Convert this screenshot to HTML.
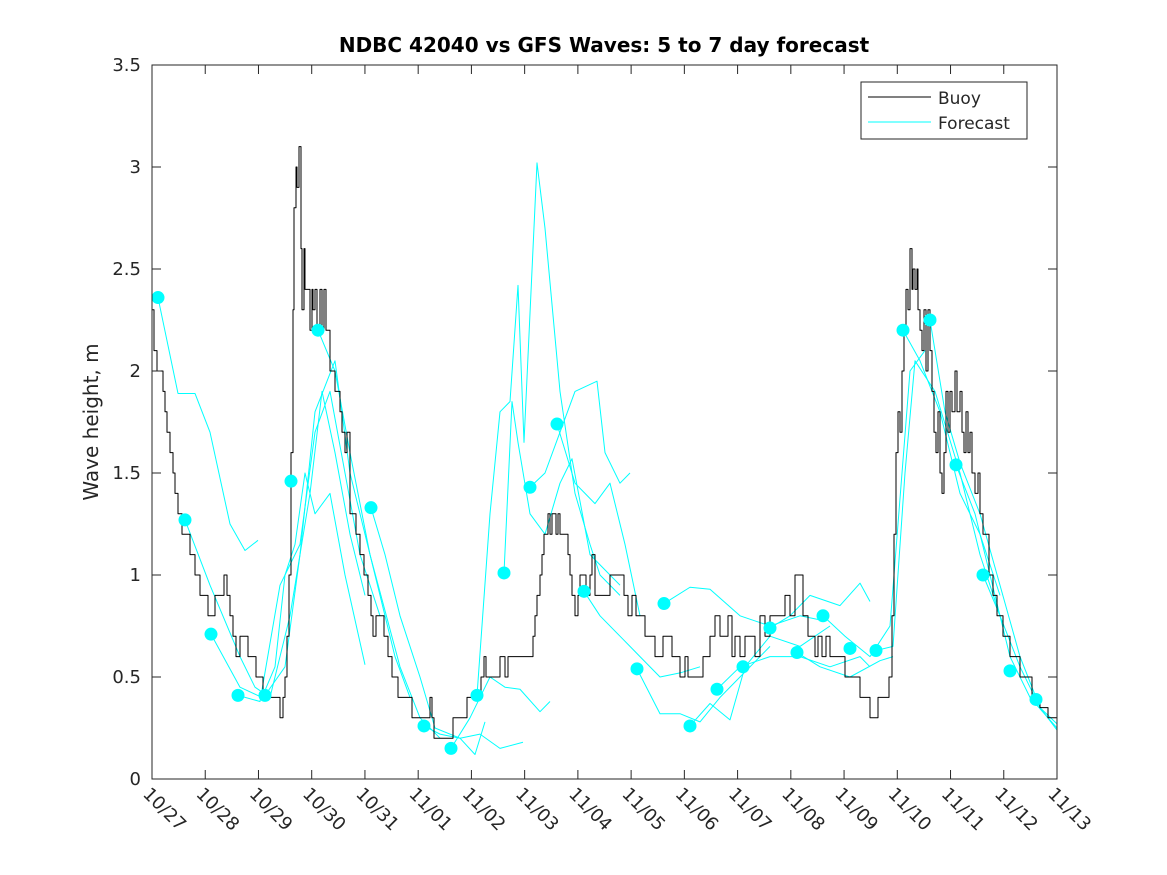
<!DOCTYPE html>
<html><head><meta charset="utf-8"><style>
body{margin:0;background:#fff}
svg{display:block}
text{font-family:"DejaVu Sans","Liberation Sans",sans-serif;fill:#262626}
</style></head><body>
<svg id="s" width="1167" height="875" xmlns="http://www.w3.org/2000/svg">
<rect width="1167" height="875" fill="#fff"/>
<g id="data"></g>
<rect x="152" y="65" width="905" height="714" fill="none" stroke="#262626" stroke-width="1"/>
<g id="ticks"></g>
<text x="604" y="52" text-anchor="middle" font-size="20" font-weight="bold" style="fill:#000">NDBC 42040 vs GFS Waves: 5 to 7 day forecast</text>
<text transform="translate(98,422) rotate(-90)" text-anchor="middle" font-size="20">Wave height, m</text>
<rect x="861" y="82" width="166" height="57" fill="#fff" stroke="#262626"/>
<line x1="868" y1="97" x2="931" y2="97" stroke="#000"/>
<line x1="868" y1="122" x2="931" y2="122" stroke="#00ffff"/>
<text x="938" y="104" font-size="17">Buoy</text>
<text x="938" y="129" font-size="17">Forecast</text>
</svg>
<script>
const Y=v=>779-v*204;
const NS="http://www.w3.org/2000/svg";
const d=document.getElementById('data'),t=document.getElementById('ticks');
function el(p,n,a,txt){const e=document.createElementNS(NS,n);for(const k in a)e.setAttribute(k,a[k]);if(txt)e.textContent=txt;p.appendChild(e);return e;}
function line(pts,col,w){el(d,'polyline',{points:pts.map(p=>p[0]+','+Y(p[1])).join(' '),fill:'none',stroke:col,'stroke-width':w,'stroke-linejoin':'round'});}
const F=[
[[158,2.36],[178,1.89],[195,1.89],[210,1.7],[230,1.25],[245,1.12],[258,1.17]],
[[185,1.27],[210,0.95],[240,0.6],[255,0.45],[270,0.4],[290,0.8],[310,1.4],[322,1.9],[335,1.6],[350,1.2],[365,0.9]],
[[211,0.71],[240,0.45],[262,0.4],[275,0.55],[285,1.0],[295,1.15],[305,1.5],[315,1.3],[330,1.4],[345,1.0],[365,0.56]],
[[238,0.41],[260,0.38],[280,0.95],[300,1.15],[315,1.7],[330,1.9],[345,1.5],[360,1.1],[380,0.8]],
[[265,0.41],[285,0.55],[300,1.1],[315,1.8],[335,2.05],[350,1.5],[370,1.1],[395,0.6],[410,0.4]],
[[318,2.2],[335,2.0],[350,1.6],[370,1.1],[400,0.55],[420,0.3],[440,0.2]],
[[371,1.33],[385,1.1],[400,0.8],[420,0.5],[435,0.25],[460,0.2],[475,0.12],[485,0.28]],
[[424,0.26],[440,0.22],[460,0.2],[480,0.22],[500,0.15],[523,0.18]],
[[451,0.15],[470,0.3],[490,0.5],[505,0.45],[520,0.44],[540,0.33],[550,0.38]],
[[477,0.41],[490,1.3],[500,1.8],[510,1.85],[518,2.42],[524,1.65],[537,3.02],[545,2.7],[560,1.9],[575,1.4],[590,1.15],[600,1.0],[620,0.9]],
[[504,1.01],[512,1.85],[518,1.65],[530,1.3],[545,1.2],[560,1.45],[572,1.57],[590,1.1],[610,1.0],[620,0.95]],
[[530,1.43],[545,1.5],[560,1.7],[575,1.9],[597,1.95],[605,1.6],[620,1.45],[630,1.5]],
[[557,1.74],[575,1.45],[585,1.4],[595,1.35],[610,1.45],[625,1.15],[640,0.8]],
[[584,0.92],[600,0.8],[620,0.7],[640,0.6],[660,0.5],[680,0.52],[700,0.55]],
[[637,0.54],[660,0.32],[680,0.32],[700,0.28],[720,0.4],[740,0.5],[770,0.65]],
[[664,0.86],[690,0.94],[710,0.93],[740,0.8],[770,0.75],[800,0.8],[820,0.78]],
[[690,0.26],[710,0.37],[730,0.29],[745,0.55],[770,0.7],[800,0.65],[830,0.75]],
[[717,0.44],[740,0.55],[770,0.6],[800,0.6],[830,0.55],[860,0.6],[870,0.55]],
[[770,0.74],[790,0.8],[810,0.9],[840,0.85],[860,0.96],[870,0.87]],
[[797,0.62],[820,0.55],[850,0.5],[880,0.58],[893,0.6]],
[[823,0.8],[845,0.7],[870,0.6],[890,0.75],[910,2.0],[925,2.1]],
[[876,0.63],[893,0.65],[905,1.5],[915,2.05],[935,1.9],[960,1.5],[980,1.1],[1000,0.8]],
[[903,2.2],[920,2.05],[940,1.8],[960,1.4],[980,1.2],[1000,0.9]],
[[930,2.25],[945,1.8],[960,1.55],[980,1.3],[1000,0.95],[1020,0.6],[1040,0.35],[1057,0.24]],
[[956,1.54],[975,1.3],[990,1.0],[1010,0.6],[1030,0.4],[1057,0.25]],
[[983,1.0],[1000,0.8],[1020,0.55],[1040,0.35],[1057,0.27]]
];
F.forEach(f=>line(f,'#00ffff',1));
const B=[[152,2.3],[154,2.1],[157,2.0],[162,2.0],[163,1.9],[165,1.8],[167,1.7],[170,1.6],[173,1.5],[175,1.4],[178,1.3],[182,1.2],[186,1.2],[190,1.1],[195,1.0],[200,0.9],[205,0.9],[208,0.8],[212,0.8],[215,0.9],[218,0.9],[222,0.9],[224,1.0],[227,0.9],[230,0.8],[233,0.7],[236,0.6],[240,0.7],[245,0.7],[248,0.6],[252,0.6],[256,0.5],[260,0.5],[263,0.4],[275,0.4],[278,0.4],[280,0.3],[283,0.4],[285,0.5],[287,0.7],[289,1.0],[291,1.6],[293,2.3],[294,2.8],[296,3.0],[297,2.9],[299,3.1],[301,2.6],[302,2.3],[304,2.6],[305,2.4],[307,2.4],[310,2.2],[312,2.4],[313,2.3],[315,2.4],[317,2.2],[320,2.4],[322,2.2],[324,2.4],[326,2.2],[330,2.0],[335,1.9],[340,1.8],[342,1.7],[345,1.6],[347,1.7],[350,1.3],[353,1.3],[356,1.2],[360,1.1],[364,1.0],[368,0.9],[371,0.8],[373,0.7],[376,0.8],[380,0.8],[384,0.7],[388,0.6],[392,0.5],[395,0.5],[398,0.4],[410,0.4],[412,0.3],[428,0.3],[430,0.4],[432,0.3],[434,0.2],[450,0.2],[453,0.3],[455,0.3],[465,0.3],[467,0.4],[470,0.4],[478,0.4],[481,0.5],[484,0.6],[486,0.5],[488,0.5],[497,0.5],[500,0.6],[505,0.5],[508,0.6],[530,0.6],[533,0.7],[535,0.8],[537,0.9],[540,1.0],[542,1.1],[544,1.2],[546,1.2],[548,1.3],[550,1.2],[552,1.3],[556,1.2],[558,1.3],[560,1.2],[565,1.2],[568,1.1],[570,1.0],[572,0.9],[575,0.8],[578,0.9],[580,1.0],[584,1.0],[586,0.9],[590,1.0],[592,1.1],[595,0.9],[600,0.9],[605,0.9],[610,1.0],[620,1.0],[624,0.9],[628,0.8],[632,0.9],[636,0.8],[640,0.8],[645,0.7],[650,0.7],[655,0.6],[660,0.6],[663,0.7],[668,0.7],[672,0.6],[676,0.6],[680,0.5],[685,0.6],[688,0.5],[700,0.5],[703,0.6],[706,0.6],[710,0.7],[715,0.8],[720,0.7],[725,0.7],[728,0.8],[732,0.6],[735,0.7],[740,0.6],[745,0.7],[750,0.7],[755,0.6],[760,0.8],[765,0.7],[770,0.8],[780,0.8],[785,0.9],[790,0.8],[795,1.0],[800,1.0],[803,0.8],[808,0.7],[812,0.7],[815,0.6],[818,0.7],[822,0.6],[826,0.7],[830,0.6],[840,0.6],[845,0.5],[855,0.5],[860,0.4],[868,0.4],[870,0.3],[876,0.3],[878,0.4],[886,0.4],[889,0.5],[892,0.8],[894,1.2],[896,1.6],[898,1.8],[900,1.7],[902,2.0],[904,2.2],[906,2.4],[908,2.3],[910,2.6],[912,2.4],[913,2.5],[915,2.4],[917,2.5],[918,2.3],[920,2.2],[922,2.1],[924,2.3],[926,2.0],[928,2.3],[930,2.1],[932,1.9],[934,1.7],[936,1.6],[938,1.8],[940,1.5],[942,1.4],[944,1.6],[946,1.9],[948,1.7],[950,1.9],[952,1.8],[955,2.0],[957,1.8],[960,1.9],[962,1.7],[964,1.6],[966,1.8],[968,1.6],[970,1.7],[972,1.5],[975,1.4],[978,1.5],[980,1.3],[983,1.2],[986,1.2],[989,1.0],[993,0.9],[997,0.8],[1000,0.8],[1003,0.7],[1007,0.7],[1010,0.6],[1015,0.6],[1020,0.5],[1025,0.5],[1032,0.4],[1040,0.35],[1048,0.3],[1057,0.25]];
const BS=[B[0]];
for(let i=1;i<B.length;i++){BS.push([B[i][0],B[i-1][1]]);BS.push(B[i]);}
line(BS,'#000',1);
const D=[[158,2.36],[185,1.27],[211,0.71],[238,0.41],[265,0.41],[291,1.46],[318,2.2],[371,1.33],[424,0.26],[451,0.15],[477,0.41],[504,1.01],[530,1.43],[557,1.74],[584,0.92],[637,0.54],[664,0.86],[690,0.26],[717,0.44],[743,0.55],[770,0.74],[797,0.62],[823,0.8],[850,0.64],[876,0.63],[903,2.2],[930,2.25],[956,1.54],[983,1.0],[1010,0.53],[1036,0.39]];
D.forEach(p=>el(d,'circle',{cx:p[0],cy:Y(p[1]),r:6.5,fill:'#00ffff'}));
for(let i=0;i<=7;i++){const v=i*0.5,y=Y(v);
el(t,'line',{x1:152,y1:y,x2:161,y2:y,stroke:'#262626'});
el(t,'line',{x1:1057,y1:y,x2:1048,y2:y,stroke:'#262626'});
el(t,'text',{x:141,y:y+6,'text-anchor':'end','font-size':18},String(v));}
const L=['10/27','10/28','10/29','10/30','10/31','11/01','11/02','11/03','11/04','11/05','11/06','11/07','11/08','11/09','11/10','11/11','11/12','11/13'];
L.forEach((s,i)=>{const x=152+i*905/17;
el(t,'line',{x1:x,y1:779,x2:x,y2:770,stroke:'#262626'});
el(t,'line',{x1:x,y1:65,x2:x,y2:74,stroke:'#262626'});
el(t,'text',{transform:`translate(${x-10},${795}) rotate(45)`,'font-size':18},s);});
</script>
</body></html>
